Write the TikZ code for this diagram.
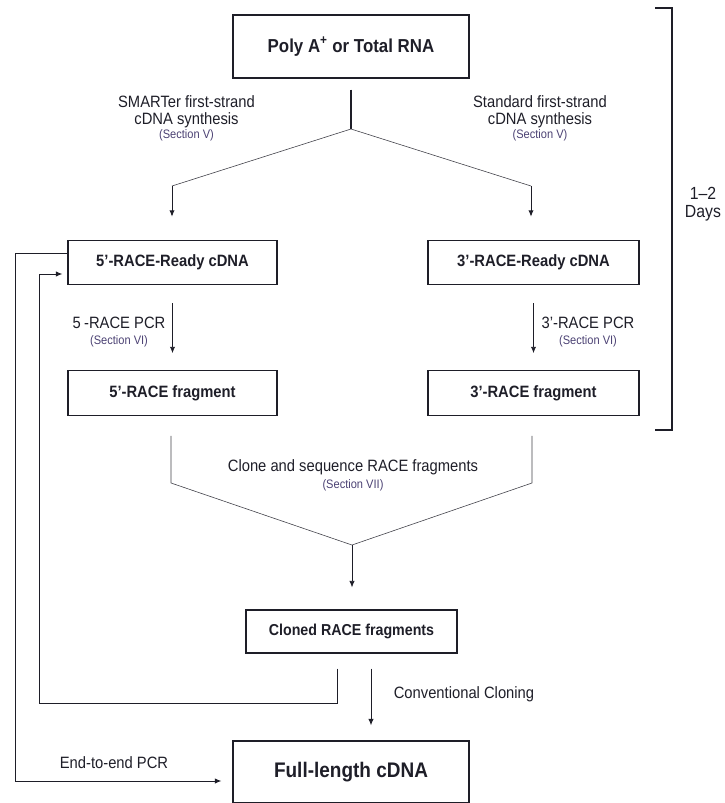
\documentclass[tikz,border=0pt]{standalone}
\usepackage{fontspec}
\setmainfont{Liberation Sans}[FakeStretch=0.9]
\usetikzlibrary{arrows.meta}
\definecolor{ink}{RGB}{30,30,40}
\definecolor{secblue}{RGB}{75,65,115}
\begin{document}
\begin{tikzpicture}[x=0.03cm,y=-0.03cm,
	box/.style={draw=ink,line width=1pt,inner sep=0pt,text=ink,font=\bfseries\fontsize{14}{16}\selectfont,minimum height=1.33cm},
	lbl/.style={text=ink,align=center,inner sep=0pt,font=\fontsize{14}{14.5}\selectfont},
	sec/.style={text=secblue,inner sep=0pt,font=\fontsize{10.5}{12}\selectfont},
	arr/.style={draw=ink,line width=0.8pt,-{Latex[length=5.5pt,width=4.5pt]}},
	thinline/.style={draw=ink!85,line width=0.5pt}]
			\useasboundingbox (0,0) rectangle (725,803);
			% boxes
			\node[box,minimum width=7.08cm,minimum height=1.89cm,font=\bfseries\fontsize{16}{18}\selectfont] (rna) at (351,46.5) {Poly A\textsuperscript{+} or Total RNA};
			\node[box,minimum width=6.27cm] (ready5) at (172.5,262.5) {5'-RACE-Ready cDNA};
			\node[box,minimum width=6.33cm] (ready3) at (533.5,262.5) {3'-RACE-Ready cDNA};
			\node[box,minimum width=6.27cm] (frag5) at (172.5,393) {5'-RACE fragment};
			\node[box,minimum width=6.33cm] (frag3) at (533.5,393) {3'-RACE fragment};
			\node[box,minimum width=6.33cm,minimum height=1.29cm,font=\bfseries\fontsize{13.5}{16}\selectfont] (cloned) at (351.5,631.5) {Cloned RACE fragments};
			\node[box,minimum width=7.08cm,minimum height=1.86cm,font=\bfseries\fontsize{18}{20}\selectfont] (full) at (351,772) {Full-length cDNA};
			% labels
			\node[lbl] (smart) at (186.5,111.5) {SMARTer first-strand\\cDNA synthesis};
			\node[sec] (smartsec) at (186.5,135) {(Section V)};
			\node[lbl] (std) at (540,111.5) {Standard first-strand\\cDNA synthesis};
			\node[sec] (stdsec) at (540,135) {(Section V)};
			\node[lbl] (pcr5) at (119,323) {5\hphantom{'}-RACE PCR};
			\node[sec] (pcr5sec) at (119,341) {(Section VI)};
			\node[lbl] (pcr3) at (588,323) {3'-RACE PCR};
			\node[sec] (pcr3sec) at (588,341) {(Section VI)};
			\node[lbl] (seq) at (353,467) {Clone and sequence RACE fragments};
			\node[sec] (seqsec) at (353,485) {(Section VII)};
			\node[lbl] (conv) at (464,694) {Conventional Cloning};
			\node[lbl] (e2e) at (114,763) {End-to-end PCR};
			\node[lbl,font=\fontsize{15}{15}\selectfont] (days) at (703,204) {1--2\\Days};
			% split and merge points
			\coordinate (split) at (351,129);
			\coordinate (ls) at (172,186);
			\coordinate (rs) at (531,186);
			\coordinate (ml) at (171,483);
			\coordinate (mr) at (532,483);
			\coordinate (merge) at (352,545);
			\coordinate (ib) at (337,703);
			\coordinate (ic) at (39,703);
			\coordinate (oa) at (15,781);
			\coordinate (cv) at (371,700);
			\coordinate (rin) at ([yshift=-0.345cm]ready5.west);
			\coordinate (rout) at ([yshift=0.285cm]ready5.west);
			% connectors
			\draw[draw=ink,line width=0.9pt,shorten <=0.33cm] (rna.south) -- (split);
			\draw[thinline] (ls) -- (split) -- (rs);
			\draw[arr,shorten >=0.69cm] (ls) -- (ls |- ready5.north);
			\draw[arr,shorten >=0.69cm] (rs) -- (rs |- ready3.north);
			\draw[arr,shorten <=0.54cm,shorten >=0.51cm] (ready5) -- (frag5);
			\draw[arr,shorten <=0.54cm,shorten >=0.51cm] (ready3) -- (frag3);
			\draw[thinline] ([yshift=-0.6cm]frag5.south -| ml) -- (ml) -- (merge) -- (mr) -- ([yshift=-0.6cm]frag3.south -| mr);
			\draw[arr,line width=0.6pt,shorten >=0.66cm] (merge) -- (merge |- cloned.north);
			\draw[arr,shorten >=0.15cm] ([yshift=-0.45cm]cloned.south -| ib) -- (ib) -- (ic) -- (ic |- rin) -- (rin);
			\draw[arr,shorten >=0.33cm] (rout) -- (rout -| oa) -- (oa) -- (oa -| full.west);
			\draw[arr] ([yshift=-0.45cm]cloned.south -| cv) -- ([yshift=0.45cm]full.north -| cv);
			% time bracket
			\draw[draw=ink,line width=1pt] (655,8) -- (672,8) -- (672,430) -- (655,430);
		\end{tikzpicture}
\end{document}
